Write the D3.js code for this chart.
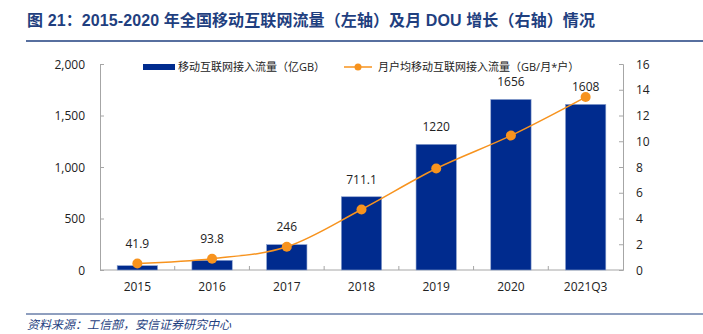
<!DOCTYPE html>
<html>
<head>
<meta charset="utf-8">
<script src="https://cdn.jsdelivr.net/npm/d3@7"></script>
<style>
body { margin: 0; background: #fff; }
svg text { font-family: "Open Sans", "Noto Sans CJK SC", sans-serif; }
</style>
</head>
<body>
<div id="chart"></div>
<script>
var categories = ['2015', '2016', '2017', '2018', '2019', '2020', '2021Q3'];
var traffic = [41.9, 93.8, 246, 711.1, 1220, 1656, 1608];       // 亿GB, left axis
var dou = [0.5, 0.88, 1.8, 4.7, 7.88, 10.44, 13.43];              // GB/月*户, right axis
var leftTicks = [0, 500, 1000, 1500, 2000];
var rightTicks = [0, 2, 4, 6, 8, 10, 12, 14, 16];

var W = 703, H = 334;
var svg = d3.select('#chart').append('svg')
    .attr('width', W)
    .attr('height', H);

var navy = '#1F3F7F';
var barColor = '#002B8E';
var orange = '#F7931E';
var axisColor = '#A6A6A6';

// title + rule
svg.append('text')
    .attr('x', 27).attr('y', 26)
    .attr('font-size', 16).attr('font-weight', 'bold')
    .attr('fill', navy)
    .attr('letter-spacing', 0.1)
    .style('font-family', '"Liberation Sans", "Noto Sans CJK SC", sans-serif')
    .text('图 21：2015-2020 年全国移动互联网流量（左轴）及月 DOU 增长（右轴）情况');
svg.append('line')
    .attr('x1', 26).attr('x2', W).attr('y1', 41).attr('y2', 41)
    .attr('stroke', navy).attr('stroke-width', 1.5);

var plotLeft = 100, plotRight = 623, plotTop = 64, plotBottom = 270;

var x = d3.scaleBand().domain(categories).range([plotLeft, plotRight]).paddingInner(0.46).paddingOuter(0.23);
var xb = d3.scaleBand().domain(categories).range([plotLeft, plotRight]);
var yL = d3.scaleLinear().domain([0, 2000]).range([plotBottom, plotTop]);
var yR = d3.scaleLinear().domain([0, 16]).range([plotBottom, plotTop]);

// axes
var gL = svg.append('g')
    .attr('transform', 'translate(' + plotLeft + ',0)')
    .call(d3.axisRight(yL).tickValues(leftTicks).tickSize(4).tickFormat(d3.format(',')));
gL.selectAll('text').remove();
gL.selectAll('.tick').append('text')
    .attr('x', -15).attr('dy', '0.35em')
    .attr('text-anchor', 'end')
    .attr('fill', '#222').attr('font-size', 12)
    .text(function(d) { return d3.format(',')(d); });

var gR = svg.append('g')
    .attr('transform', 'translate(' + plotRight + ',0)')
    .call(d3.axisLeft(yR).tickValues(rightTicks).tickSize(4));
gR.selectAll('text').remove();
gR.selectAll('.tick').append('text')
    .attr('x', 13).attr('dy', '0.35em')
    .attr('text-anchor', 'start')
    .attr('fill', '#222').attr('font-size', 12)
    .text(function(d) { return d; });

var gX = svg.append('g').attr('transform', 'translate(0,' + plotBottom + ')');
gX.append('line').attr('x1', plotLeft).attr('x2', plotRight).attr('stroke', axisColor);
gX.selectAll('.sep')
    .data(categories.slice(1))
    .enter().append('line')
    .attr('x1', function(d) { return xb(d); })
    .attr('x2', function(d) { return xb(d); })
    .attr('y1', 0).attr('y2', -4)
    .attr('stroke', axisColor);
gX.selectAll('.lbl')
    .data(categories)
    .enter().append('text')
    .attr('x', function(d) { return xb(d) + xb.bandwidth() / 2; })
    .attr('y', 21)
    .attr('text-anchor', 'middle')
    .attr('fill', '#222').attr('font-size', 12)
    .text(function(d) { return d; });

svg.selectAll('.domain').attr('stroke', axisColor);
svg.selectAll('.tick line').attr('stroke', axisColor);

// bars
svg.selectAll('.bar')
    .data(traffic)
    .enter().append('rect')
    .attr('class', 'bar')
    .attr('x', function(d, i) { return x(categories[i]); })
    .attr('y', function(d) { return yL(d); })
    .attr('width', x.bandwidth())
    .attr('height', function(d) { return plotBottom - yL(d); })
    .attr('fill', barColor)
    .attr('stroke', '#8EA3CF').attr('stroke-width', 0.6);

// value labels
svg.selectAll('.val')
    .data(traffic)
    .enter().append('text')
    .attr('x', function(d, i) { return xb(categories[i]) + xb.bandwidth() / 2; })
    .attr('y', function(d, i) { return i < 3 ? yR(dou[i]) - 16 : yL(d) - 13; })
    .attr('text-anchor', 'middle')
    .attr('fill', '#222').attr('font-size', 12)
    .text(function(d) { return d; });

// DOU line
var cx = function(d, i) { return xb(categories[i]) + xb.bandwidth() / 2; };
var line = d3.line()
    .x(cx)
    .y(function(d) { return yR(d); })
    .curve(d3.curveCatmullRom.alpha(0));
svg.append('path')
    .datum(dou)
    .attr('d', line)
    .attr('fill', 'none')
    .attr('stroke', orange).attr('stroke-width', 1.5);
svg.selectAll('.dot')
    .data(dou)
    .enter().append('circle')
    .attr('cx', cx)
    .attr('cy', function(d) { return yR(d); })
    .attr('r', 5)
    .attr('fill', orange);

// legend
var lg = svg.append('g');
lg.append('rect').attr('x', 143).attr('y', 64).attr('width', 32).attr('height', 6).attr('fill', barColor);
lg.append('text').attr('x', 178).attr('y', 71).attr('font-size', 11).attr('fill', '#222')
    .text('移动互联网接入流量（亿GB）');
lg.append('line').attr('x1', 344).attr('x2', 372).attr('y1', 67).attr('y2', 67)
    .attr('stroke', orange).attr('stroke-width', 1.5);
lg.append('circle').attr('cx', 358).attr('cy', 67).attr('r', 3.5).attr('fill', orange);
lg.append('text').attr('x', 378).attr('y', 71).attr('font-size', 11).attr('fill', '#222')
    .text('月户均移动互联网接入流量（GB/月*户）');

// source
svg.append('line')
    .attr('x1', 26).attr('x2', W).attr('y1', 314).attr('y2', 314)
    .attr('stroke', navy).attr('stroke-width', 1);
svg.append('text')
    .attr('x', 27).attr('y', 329)
    .attr('font-size', 12).attr('font-style', 'italic')
    .attr('fill', navy)
    .text('资料来源：工信部，安信证券研究中心');
</script>
</body>
</html>
